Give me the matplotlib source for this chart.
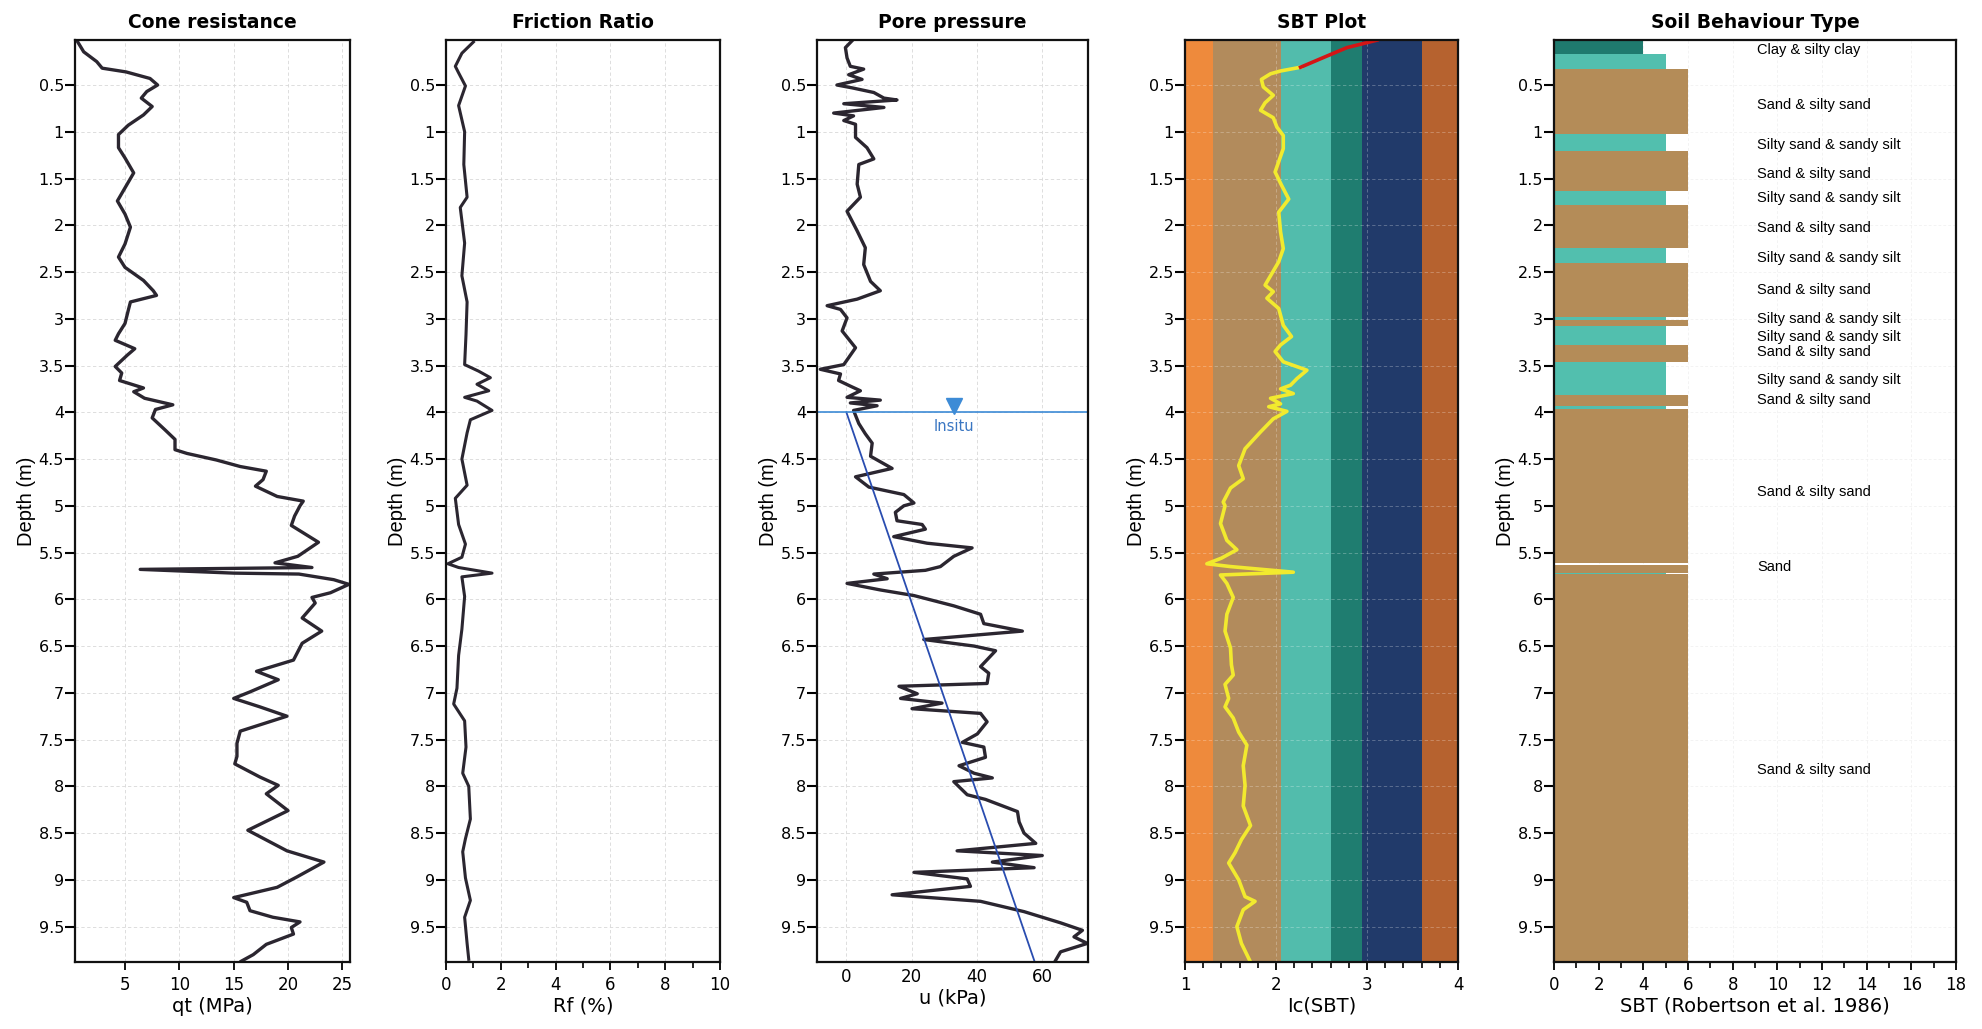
import matplotlib
matplotlib.use("Agg")
import matplotlib.pyplot as plt
from matplotlib.ticker import FuncFormatter, MultipleLocator

# ---- Cone resistance qt (MPa) vs depth (m)
qt_depth = [0.02, 0.145, 0.25, 0.32, 0.36, 0.43, 0.5, 0.57, 0.64, 0.73, 0.82, 0.93, 1.03, 1.17, 1.28,
            1.44, 1.6, 1.74, 1.88, 2.02, 2.2, 2.34, 2.45, 2.59, 2.7, 2.75, 2.82, 2.91, 3.05, 3.16,
            3.23, 3.32, 3.39, 3.51, 3.58, 3.66, 3.74, 3.78, 3.85, 3.92, 3.97, 4.06, 4.19, 4.29, 4.4,
            4.44, 4.51, 4.58, 4.63, 4.72, 4.79, 4.9, 4.95, 5.0, 5.11, 5.21, 5.39, 5.54, 5.61, 5.66,
            5.68, 5.72, 5.73, 5.79, 5.84, 5.93, 5.98, 6.04, 6.2, 6.34, 6.47, 6.65, 6.77, 6.86, 6.99,
            7.06, 7.15, 7.25, 7.41, 7.54, 7.68, 7.76, 7.9, 7.99, 8.08, 8.26, 8.47, 8.69, 8.81, 8.97,
            9.08, 9.19, 9.24, 9.33, 9.4, 9.45, 9.51, 9.58, 9.69, 9.8, 9.87]
qt_val = [0.55, 1.2, 2.4, 2.9, 5.1, 7.3, 8.0, 7.0, 6.5, 7.5, 6.7, 5.3, 4.4, 4.4, 5.0,
          5.8, 5.0, 4.3, 5.0, 5.5, 5.0, 4.4, 5.0, 6.7, 7.6, 7.9, 5.5, 5.3, 5.0, 4.4,
          4.1, 5.9, 5.2, 4.1, 4.7, 4.5, 6.7, 5.8, 6.8, 9.4, 7.8, 7.5, 8.7, 9.6, 9.6,
          10.7, 13.4, 15.6, 18.0, 17.7, 17.0, 19.0, 21.4, 21.1, 20.6, 20.3, 22.8, 20.9, 18.8, 22.2,
          6.4, 15.0, 21.0, 24.2, 25.6, 23.9, 22.2, 22.5, 21.3, 23.1, 21.3, 20.5, 17.1, 19.1, 16.5,
          15.0, 17.4, 19.9, 15.6, 15.3, 15.3, 15.1, 17.4, 19.1, 18.0, 20.0, 16.3, 19.9, 23.3, 20.8,
          19.0, 15.0, 16.2, 16.5, 18.6, 21.1, 20.3, 20.5, 18.0, 16.8, 15.7]

# ---- Friction ratio Rf (%)
rf_depth = [0.04, 0.16, 0.3, 0.37, 0.51, 0.72, 1.0, 1.35, 1.7, 1.81, 2.19, 2.54, 2.82, 3.17, 3.49,
            3.56, 3.63, 3.7, 3.77, 3.84, 3.88, 3.98, 4.08, 4.22, 4.5, 4.78, 4.92, 5.2, 5.41, 5.55,
            5.62, 5.66, 5.72, 5.76, 5.97, 6.32, 6.6, 6.95, 7.12, 7.3, 7.58, 7.86, 8.0, 8.35, 8.56,
            8.7, 8.98, 9.22, 9.4, 9.68, 9.85]
rf_val = [1.0, 0.58, 0.34, 0.46, 0.71, 0.46, 0.68, 0.65, 0.77, 0.52, 0.68, 0.58, 0.77, 0.73, 0.68,
          1.19, 1.62, 1.13, 1.56, 0.68, 1.13, 1.68, 0.89, 0.77, 0.58, 0.77, 0.34, 0.46, 0.71, 0.58,
          0.07, 0.46, 1.68, 0.58, 0.68, 0.58, 0.46, 0.40, 0.28, 0.68, 0.73, 0.61, 0.83, 0.89, 0.71,
          0.61, 0.71, 0.89, 0.68, 0.77, 0.83]

# ---- Pore pressure u (kPa)
u_depth = [0.01, 0.1, 0.21, 0.3, 0.33, 0.39, 0.44, 0.5, 0.53, 0.58, 0.64, 0.66, 0.7, 0.74, 0.8,
           0.83, 0.88, 0.92, 1.06, 1.17, 1.29, 1.35, 1.56, 1.7, 1.85, 2.06, 2.24, 2.42, 2.6, 2.7,
           2.79, 2.86, 2.9, 2.99, 3.13, 3.31, 3.49, 3.54, 3.59, 3.66, 3.72, 3.77, 3.84, 3.87, 3.9,
           3.93, 3.98, 4.12, 4.23, 4.33, 4.47, 4.6, 4.69, 4.8, 4.88, 4.97, 5.0, 5.07, 5.16, 5.2,
           5.25, 5.33, 5.4, 5.45, 5.54, 5.65, 5.69, 5.73, 5.78, 5.83, 5.9, 5.96, 6.07, 6.16, 6.26,
           6.34, 6.43, 6.5, 6.55, 6.72, 6.79, 6.9, 6.93, 7.01, 7.06, 7.11, 7.17, 7.22, 7.31, 7.44,
           7.53, 7.58, 7.69, 7.78, 7.86, 7.91, 7.95, 8.09, 8.14, 8.27, 8.38, 8.5, 8.61, 8.69, 8.74,
           8.81, 8.87, 8.92, 8.99, 9.07, 9.16, 9.23, 9.34, 9.46, 9.54, 9.61, 9.68, 9.77, 9.86]
u_val = [2.2, -0.3, 0.2, 1.2, 5.3, 0.7, 4.8, -2.9, 1.7, 8.4, 11.5, 15.5, -0.8, 11.5, -3.9,
         2.2, -0.8, 2.8, 2.8, 6.3, 8.4, 3.8, 3.3, 4.3, 0.2, 3.3, 5.8, 5.3, 7.4, 10.4,
         3.3, -5.9, -1.8, 0.2, -1.3, 2.8, -0.8, -8.0, -1.8, -2.4, 1.2, 4.3, 0.2, 10.4, 1.2,
         9.4, 2.2, 3.8, 5.8, 7.9, 7.4, 14.0, 2.8, 6.9, 17.6, 20.7, 17.6, 15.0, 15.5, 23.2,
         24.2, 14.5, 24.7, 38.5, 32.9, 28.8, 24.2, 8.4, 12.5, 0.2, 10.4, 20.7, 32.9, 41.1, 42.1,
         53.9, 23.7, 39.1, 45.7, 41.1, 43.6, 43.1, 16.1, 21.7, 16.6, 29.3, 20.1, 41.1, 43.1, 40.1,
         35.5, 42.1, 42.6, 34.5, 39.1, 44.7, 32.9, 37.0, 42.6, 52.4, 52.9, 54.4, 58.0, 33.9, 60.0,
         44.7, 57.5, 20.7, 37.0, 38.0, 14.0, 41.1, 54.4, 65.6, 72.3, 69.7, 73.8, 65.6, 64.1]

# hydrostatic (in situ) pore pressure line
water_depth = 4.0
hydro_depth = [4.0, 9.88]
hydro_u = [0.0, 57.7]

# ---- SBT index Ic
ic_red_depth = [0.02, 0.1, 0.19, 0.31]
ic_red_val = [3.11, 2.78, 2.56, 2.27]
ic_depth = [0.31, 0.35, 0.38, 0.44, 0.52, 0.61, 0.69, 0.77, 0.85, 0.95, 1.04, 1.18, 1.43, 1.57, 1.72,
            1.86, 2.07, 2.25, 2.39, 2.54, 2.64, 2.71, 2.78, 2.89, 3.07, 3.19, 3.28, 3.35, 3.46, 3.55,
            3.64, 3.71, 3.75, 3.8, 3.85, 3.91, 3.94, 3.99, 4.07, 4.21, 4.39, 4.57, 4.71, 4.81, 4.96,
            5.0, 5.19, 5.37, 5.47, 5.56, 5.62, 5.65, 5.71, 5.74, 5.83, 5.98, 6.16, 6.34, 6.52, 6.7,
            6.81, 6.91, 7.06, 7.15, 7.27, 7.42, 7.56, 7.78, 7.99, 8.21, 8.42, 8.57, 8.71, 8.82, 9.0,
            9.18, 9.23, 9.32, 9.5, 9.68, 9.88]
ic_val = [2.27, 2.05, 1.94, 1.84, 1.86, 1.97, 1.88, 1.83, 1.97, 2.01, 2.08, 2.08, 1.99, 2.06, 2.14,
          2.03, 2.05, 2.08, 2.03, 1.94, 1.88, 1.97, 1.90, 2.03, 2.08, 2.17, 2.05, 1.99, 2.08, 2.34,
          2.23, 2.16, 2.05, 2.19, 1.94, 2.05, 1.92, 2.12, 1.97, 1.83, 1.66, 1.59, 1.64, 1.50, 1.42,
          1.44, 1.39, 1.46, 1.57, 1.40, 1.24, 1.50, 2.19, 1.39, 1.46, 1.53, 1.46, 1.44, 1.50, 1.51,
          1.53, 1.44, 1.48, 1.44, 1.53, 1.59, 1.68, 1.64, 1.66, 1.64, 1.72, 1.62, 1.55, 1.48, 1.59,
          1.66, 1.77, 1.64, 1.57, 1.62, 1.72]

# Ic zone boundaries and colours (Robertson)
ic_bounds = [1.0, 1.31, 2.05, 2.60, 2.95, 3.60, 4.0]
ic_colors = ["#ee8a3c", "#b28b5c", "#52bcac", "#1f7d70", "#213a6a", "#b6622f"]

# ---- SBT layers
layer_top = [0.02, 0.17, 0.33, 1.02, 1.21, 1.63, 1.78, 2.24, 2.40, 2.98, 3.01, 3.08, 3.28, 3.46,
             3.82, 3.93, 3.97, 5.63, 5.715, 5.73]
layer_bottom = [0.17, 0.33, 1.02, 1.21, 1.63, 1.78, 2.24, 2.40, 2.98, 3.01, 3.08, 3.28, 3.46, 3.82,
                3.93, 3.97, 5.615, 5.715, 5.725, 9.88]
layer_sbt = [4, 5, 6, 5, 6, 5, 6, 5, 6, 5, 6, 5, 6, 5, 6, 5, 6, 6, 5, 6]
sbt_colors = {4: "#1f7a6e", 5: "#52bfae", 6: "#b48c58"}

label_text = ["Clay & silty clay", "Sand & silty sand", "Silty sand & sandy silt", "Sand & silty sand",
              "Silty sand & sandy silt", "Sand & silty sand", "Silty sand & sandy silt",
              "Sand & silty sand", "Silty sand & sandy silt", "Silty sand & sandy silt",
              "Sand & silty sand", "Silty sand & sandy silt", "Sand & silty sand",
              "Sand & silty sand", "Sand", "Sand & silty sand"]
label_depth = [0.13, 0.71, 1.145, 1.45, 1.71, 2.03, 2.35, 2.69, 3.0, 3.19, 3.36, 3.66, 3.87,
               4.85, 5.65, 7.83]

depth_top, depth_bottom = 0.02, 9.88
depth_ticks = [0.5 * i for i in range(1, 20)]

fig = plt.figure(figsize=(19.82, 10.29), dpi=100)
W = 1982.0
bottom, height = 0.065, 0.896
panels = [(75, 275), (446, 274), (817, 271), (1185, 273), (1554, 402)]
axes = [fig.add_axes([l / W, bottom, w / W, height]) for l, w in panels]

line_col = "#2b2630"
narrow = ["Liberation Sans Narrow", "Liberation Sans", "DejaVu Sans"]


def style(ax, title, xlabel):
    ax.set_ylim(depth_bottom, depth_top)
    ax.set_yticks(depth_ticks)
    ax.yaxis.set_major_formatter(FuncFormatter(lambda v, p: "%g" % v))
    ax.set_title(title, fontsize=13.5, fontweight="bold", pad=9)
    ax.set_xlabel(xlabel, fontsize=14, labelpad=2)
    ax.set_ylabel("Depth (m)", fontsize=14.5, family=narrow, labelpad=2)
    ax.tick_params(axis="y", length=7, width=1.5, labelsize=11.5, pad=1)
    ax.tick_params(axis="x", which="major", length=6, width=1.3, labelsize=12, pad=4)
    ax.tick_params(axis="x", which="minor", length=4, width=1.2)
    ax.grid(True, color="#d8d8d8", linestyle=(0, (4, 3)), linewidth=0.6)
    for s in ax.spines.values():
        s.set_linewidth(1.6)
        s.set_color("#111111")
        s.set_zorder(6)


# Cone resistance
ax = axes[0]
ax.plot(qt_val, qt_depth, color=line_col, lw=2.4)
ax.set_xlim(0.4, 25.7)
ax.set_xticks([5, 10, 15, 20, 25])
style(ax, "Cone resistance", "qt (MPa)")

# Friction ratio
ax = axes[1]
ax.plot(rf_val, rf_depth, color=line_col, lw=2.2)
ax.set_xlim(0, 10)
ax.set_xticks([0, 2, 4, 6, 8, 10])
ax.xaxis.set_minor_locator(MultipleLocator(1))
style(ax, "Friction Ratio", "Rf (%)")

# Pore pressure
ax = axes[2]
ax.plot(u_val, u_depth, color=line_col, lw=2.4)
ax.plot(hydro_u, hydro_depth, color="#2a4db0", lw=1.3)
ax.axhline(water_depth, color="#3d8bd6", lw=1.2)
ax.plot([33], [water_depth - 0.07], marker="v", color="#3d8bd6", markersize=11, ls="none")
ax.text(33, water_depth + 0.15, "Insitu", color="#3a76c2", fontsize=10.5, ha="center", va="center")
ax.set_xlim(-9, 74)
ax.set_xticks([0, 20, 40, 60])
style(ax, "Pore pressure", "u (kPa)")
ax.tick_params(axis="x", length=0)

# SBT plot
ax = axes[3]
for i in range(len(ic_colors)):
    ax.axvspan(ic_bounds[i], ic_bounds[i + 1], color=ic_colors[i], lw=0, zorder=0)
ax.plot(ic_val, ic_depth, color="#f2ea2e", lw=2.6, zorder=3)
ax.plot(ic_red_val, ic_red_depth, color="#d41515", lw=2.6, zorder=3)
ax.set_xlim(1, 4)
ax.set_xticks([1, 2, 3, 4])
ax.xaxis.set_minor_locator(MultipleLocator(0.2))
style(ax, "SBT Plot", "Ic(SBT)")
ax.grid(True, color="#ffffff", alpha=0.3, linestyle=(0, (4, 3)), linewidth=0.6)

# Soil behaviour type
ax = axes[4]
for t, b, s in zip(layer_top, layer_bottom, layer_sbt):
    ax.barh(t, s, height=b - t, left=0, align="edge", color=sbt_colors[s], lw=0, zorder=2)
for txt, d in zip(label_text, label_depth):
    ax.text(9.1, d, txt, fontsize=10.5, family=narrow, ha="left", va="center", zorder=3)
ax.set_xlim(0, 18)
ax.set_xticks(list(range(0, 19, 2)))
ax.xaxis.set_minor_locator(MultipleLocator(1))
style(ax, "Soil Behaviour Type", "SBT (Robertson et al. 1986)")
ax.grid(True, color="#eeeeee", linestyle=(0, (4, 3)), linewidth=0.5, zorder=1)
ax.set_axisbelow(True)

fig.savefig("out.png", dpi=100)
